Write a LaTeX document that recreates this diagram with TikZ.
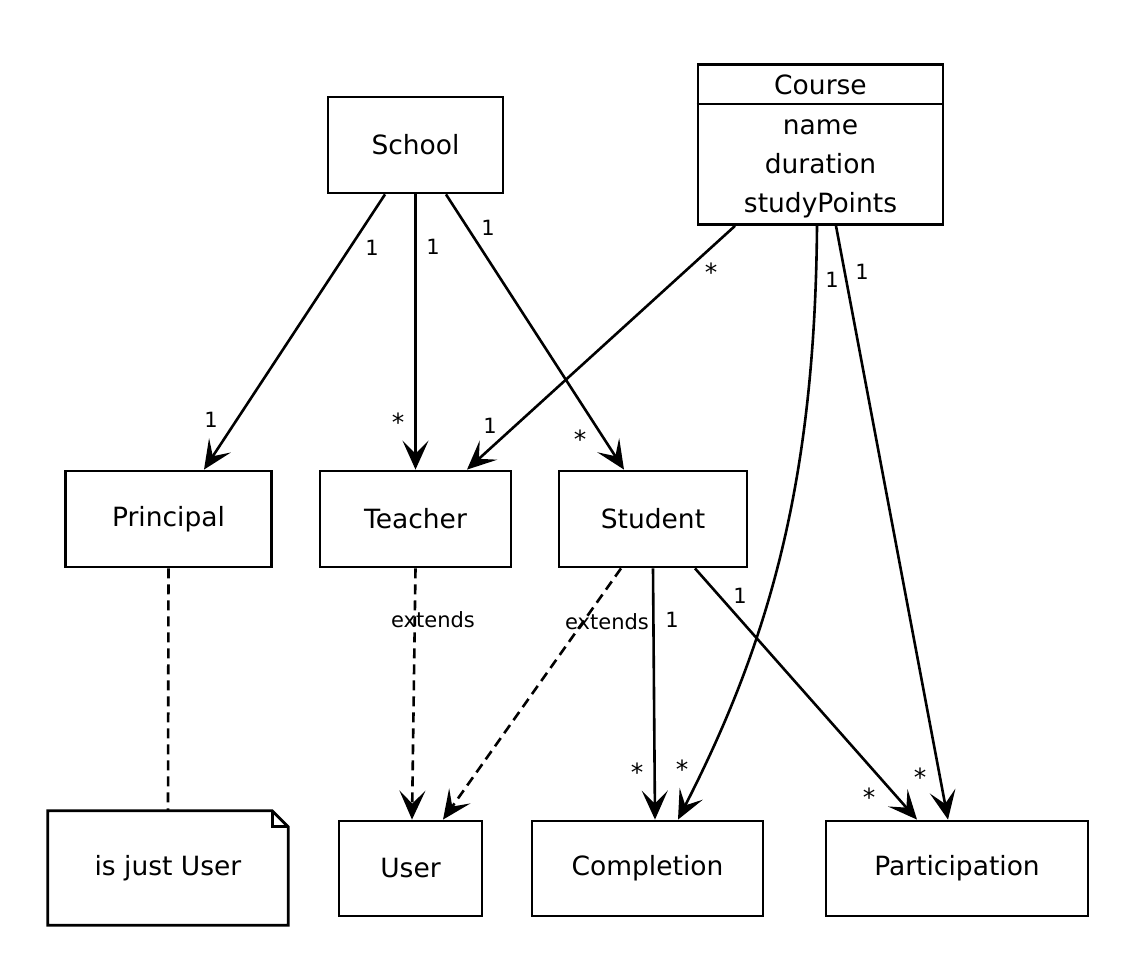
\documentclass[tikz,border=0pt]{standalone}
\usepackage{fontspec}
\setmainfont{DejaVu Sans}
\usetikzlibrary{arrows.meta,calc}
\begin{document}
\begin{tikzpicture}[x=1pt,y=-1pt,
  box/.style={draw, line width=2.8pt, rectangle, inner sep=0pt, font=\fontsize{26.5}{31}\selectfont},
  txt/.style={inner sep=0pt, font=\fontsize{26.5}{31}\selectfont},
  assoc/.style={line width=2.6pt, -{Stealth[length=29pt,width=26pt,inset=13pt]}},
  ext/.style={assoc, dash pattern=on 10pt off 6pt},
  lbl/.style={font=\fontsize{21}{25}\selectfont, inner sep=0pt},
  star/.style={font=\fontsize{25}{29}\selectfont, inner sep=0pt},
]
\fill[white] (0,0) rectangle (1136,966);
\useasboundingbox (0,0) rectangle (1136,966);

% classes
\node[box, minimum width=175pt, minimum height=96pt] (school) at (415.5,145) {School};
\node[box, minimum width=245pt, minimum height=160pt] (course) at (820.5,144.5) {};
\draw[line width=2.8pt] (course.west |- 0,104) -- (course.east |- 0,104);
\node[txt, anchor=base] (coursename) at (820.5,95) {Course};
\node[txt, anchor=base] (attr1) at (820.5,134) {name};
\node[txt, anchor=base] (attr2) at (820.5,173) {duration};
\node[txt, anchor=base] (attr3) at (820.5,212) {studyPoints};

\node[box, minimum width=206pt, minimum height=96pt] (principal) at (168.5,519) {Principal};
\node[box, minimum width=191pt, minimum height=96pt] (teacher) at (415.5,519) {Teacher};
\node[box, minimum width=188pt, minimum height=96pt] (student) at (653,519) {Student};

\node[box, minimum width=143pt, minimum height=95pt] (user) at (410.5,868.5) {User};
\node[box, minimum width=231pt, minimum height=95pt] (completion) at (647.5,868.5) {Completion};
\node[box, minimum width=262pt, minimum height=95pt] (participation) at (957,868.5) {Participation};

% note
\node[txt, minimum width=240pt, minimum height=114pt] (note) at (168,868) {is just User};
\draw[line width=2.8pt, line join=miter]
  (note.north west) -- ([xshift=-16pt]note.north east) -- ([yshift=-16pt]note.north east)
  -- (note.south east) -- (note.south west) -- cycle;
\draw[line width=2.8pt, line join=miter]
  ([xshift=-16pt]note.north east) -- ([xshift=-16pt,yshift=-16pt]note.north east) -- ([yshift=-16pt]note.north east);

% connectors
\draw[assoc] ([xshift=-30.5pt]school.south) -- ([xshift=35.5pt]principal.north);
\draw[assoc] (school.south) -- (teacher.north);
\draw[assoc] ([xshift=30.5pt]school.south) -- ([xshift=-29pt]student.north);
\draw[assoc] ([xshift=-85.5pt]course.south) -- ([xshift=51.5pt]teacher.north);
\draw[assoc] ([xshift=-3.5pt]course.south) .. controls (815,480) and (770,640) .. ([xshift=30.5pt]completion.north);
\draw[assoc] ([xshift=15.5pt]course.south) -- ([xshift=-9pt]participation.north);
\draw[assoc] (student.south) -- ([xshift=7.5pt]completion.north);
\draw[assoc] ([xshift=42pt]student.south) -- ([xshift=-40pt]participation.north);
\draw[ext] (teacher.south) -- ([xshift=1.5pt]user.north);
\draw[ext] ([xshift=-32pt]student.south) -- ([xshift=32.5pt]user.north);
\draw[line width=2.6pt, dash pattern=on 10pt off 6pt] (principal.south) -- (note.north);

% labels
\node[lbl] (l1) at (372,248) {1};
\node[lbl] (l2) at (211,420) {1};
\node[lbl] (l3) at (433,247) {1};
\node[star] (l4) at (398,422) {*};
\node[lbl] (l5) at (488,228) {1};
\node[star] (l6) at (580,439) {*};
\node[star] (l7) at (711,272) {*};
\node[lbl] (l8) at (490,426) {1};
\node[lbl] (l9) at (832,280) {1};
\node[lbl] (l10) at (862,272) {1};
\node[star] (l11) at (637,772) {*};
\node[star] (l12) at (682,769) {*};
\node[star] (l13) at (869,797) {*};
\node[star] (l14) at (920,777) {*};
\node[lbl] (l15) at (672,620) {1};
\node[lbl] (l16) at (740,596) {1};
\node[lbl] (e1) at (433,620) {extends};
\node[lbl] (e2) at (607,622) {extends};
\end{tikzpicture}
\end{document}
